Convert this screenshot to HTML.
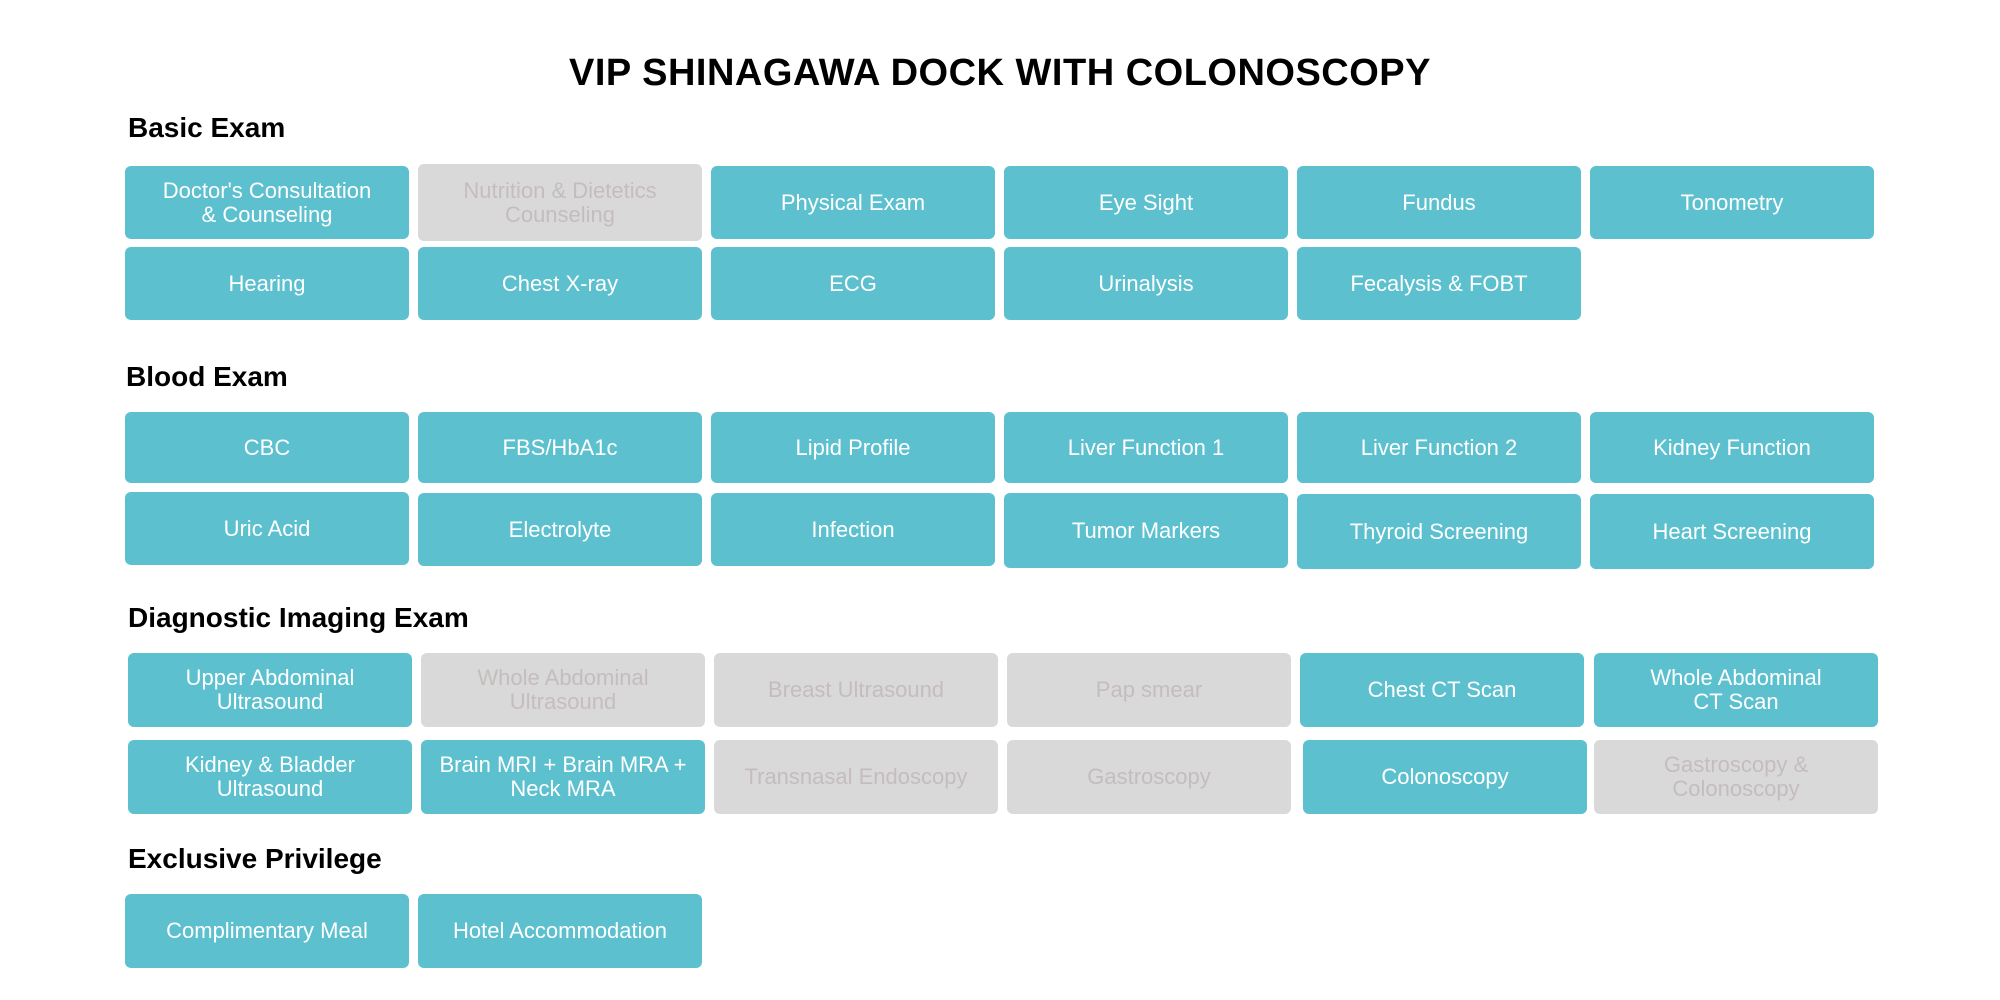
<!DOCTYPE html>
<html><head><meta charset="utf-8"><style>
body{margin:0;width:2000px;height:1000px;background:#fff;position:relative;overflow:hidden;font-family:"Liberation Sans",sans-serif}
.t{position:absolute;left:0;width:2000px;top:52px;text-align:center;font-weight:bold;font-size:38px;color:#000;letter-spacing:0.5px}
.h{position:absolute;font-size:28px;font-weight:bold;color:#000}
.b{position:absolute;width:284px;border-radius:6px;background:#5cc0cf;color:#fff;display:flex;align-items:center;justify-content:center;text-align:center;font-size:22px;line-height:24px}
.g{background:#d9d9d9;color:#c5bdbd}
</style></head><body>
<div class="t">VIP SHINAGAWA DOCK WITH COLONOSCOPY</div>

<div class="h" style="left:128px;top:112px">Basic Exam</div>
<div class="b" style="left:125px;top:166px;height:73px">Doctor's Consultation<br>&amp; Counseling</div>
<div class="b g" style="left:418px;top:164px;height:77px">Nutrition &amp; Dietetics<br>Counseling</div>
<div class="b" style="left:711px;top:166px;height:73px">Physical Exam</div>
<div class="b" style="left:1004px;top:166px;height:73px">Eye Sight</div>
<div class="b" style="left:1297px;top:166px;height:73px">Fundus</div>
<div class="b" style="left:1590px;top:166px;height:73px">Tonometry</div>
<div class="b" style="left:125px;top:247px;height:73px">Hearing</div>
<div class="b" style="left:418px;top:247px;height:73px">Chest X-ray</div>
<div class="b" style="left:711px;top:247px;height:73px">ECG</div>
<div class="b" style="left:1004px;top:247px;height:73px">Urinalysis</div>
<div class="b" style="left:1297px;top:247px;height:73px">Fecalysis &amp; FOBT</div>

<div class="h" style="left:126px;top:361px">Blood Exam</div>
<div class="b" style="left:125px;top:412px;height:71px">CBC</div>
<div class="b" style="left:418px;top:412px;height:71px">FBS/HbA1c</div>
<div class="b" style="left:711px;top:412px;height:71px">Lipid Profile</div>
<div class="b" style="left:1004px;top:412px;height:71px">Liver Function 1</div>
<div class="b" style="left:1297px;top:412px;height:71px">Liver Function 2</div>
<div class="b" style="left:1590px;top:412px;height:71px">Kidney Function</div>
<div class="b" style="left:125px;top:492px;height:73px">Uric Acid</div>
<div class="b" style="left:418px;top:493px;height:73px">Electrolyte</div>
<div class="b" style="left:711px;top:493px;height:73px">Infection</div>
<div class="b" style="left:1004px;top:493px;height:75px">Tumor Markers</div>
<div class="b" style="left:1297px;top:494px;height:75px">Thyroid Screening</div>
<div class="b" style="left:1590px;top:494px;height:75px">Heart Screening</div>

<div class="h" style="left:128px;top:602px">Diagnostic Imaging Exam</div>
<div class="b" style="left:128px;top:653px;height:74px">Upper Abdominal<br>Ultrasound</div>
<div class="b g" style="left:421px;top:653px;height:74px">Whole Abdominal<br>Ultrasound</div>
<div class="b g" style="left:714px;top:653px;height:74px">Breast Ultrasound</div>
<div class="b g" style="left:1007px;top:653px;height:74px">Pap smear</div>
<div class="b" style="left:1300px;top:653px;height:74px">Chest CT Scan</div>
<div class="b" style="left:1594px;top:653px;height:74px">Whole Abdominal<br>CT Scan</div>
<div class="b" style="left:128px;top:740px;height:74px">Kidney &amp; Bladder<br>Ultrasound</div>
<div class="b" style="left:421px;top:740px;height:74px">Brain MRI + Brain MRA +<br>Neck MRA</div>
<div class="b g" style="left:714px;top:740px;height:74px">Transnasal Endoscopy</div>
<div class="b g" style="left:1007px;top:740px;height:74px">Gastroscopy</div>
<div class="b" style="left:1303px;top:740px;height:74px">Colonoscopy</div>
<div class="b g" style="left:1594px;top:740px;height:74px">Gastroscopy &amp;<br>Colonoscopy</div>

<div class="h" style="left:128px;top:843px">Exclusive Privilege</div>
<div class="b" style="left:125px;top:894px;height:74px">Complimentary Meal</div>
<div class="b" style="left:418px;top:894px;height:74px">Hotel Accommodation</div>
</body></html>
